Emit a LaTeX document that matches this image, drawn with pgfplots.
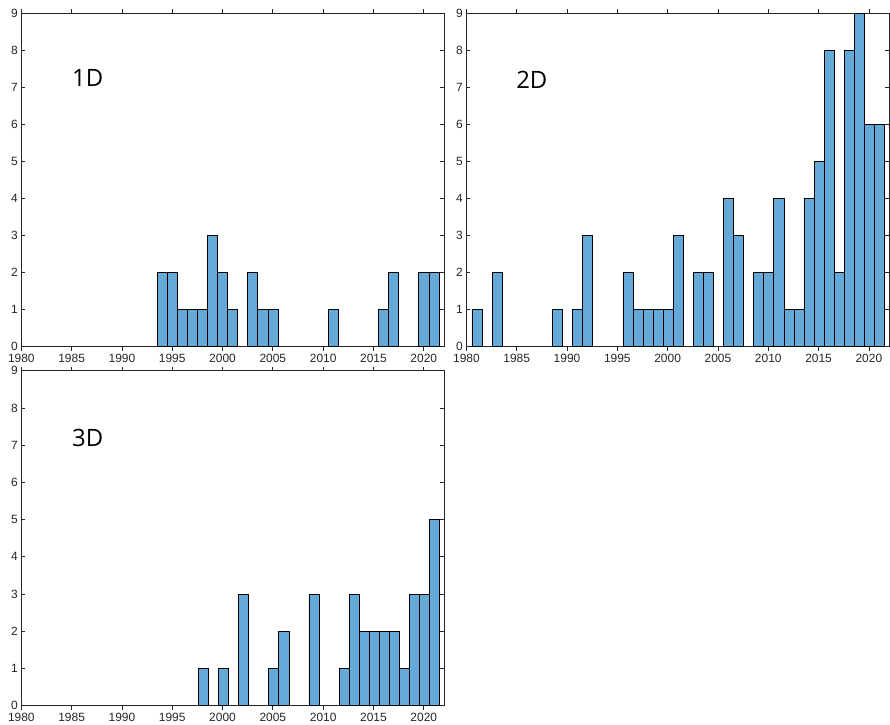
\documentclass[border=0pt]{standalone}
\usepackage{pgfplots}
\pgfplotsset{compat=1.18}
\usepackage{pgfplotstable}
\usepackage{fontspec}
\setmainfont{Liberation Sans}
\newfontfamily\labfont{Open Sans}
\definecolor{barblue}{RGB}{100,169,215}
\definecolor{axgray}{RGB}{38,38,38}

\pgfplotstableread{
year n
1994 2
1995 2
1996 1
1997 1
1998 1
1999 3
2000 2
2001 1
2003 2
2004 1
2005 1
2011 1
2016 1
2017 2
2020 2
2021 2
}\oneD

\pgfplotstableread{
year n
1981 1
1983 2
1989 1
1991 1
1992 3
1996 2
1997 1
1998 1
1999 1
2000 1
2001 3
2003 2
2004 2
2006 4
2007 3
2009 2
2010 2
2011 4
2012 1
2013 1
2014 4
2015 5
2016 8
2017 2
2018 8
2019 9
2020 6
2021 6
}\twoD

\pgfplotstableread{
year n
1998 1
2000 1
2002 3
2005 1
2006 2
2009 3
2012 1
2013 3
2014 2
2015 2
2016 2
2017 2
2018 1
2019 3
2020 3
2021 5
}\threeD

\pgfplotsset{panel/.style={
  scale only axis, width=422.6bp, height=333.4bp,
  xmin=1980, xmax=2022, ymin=0, ymax=9,
  xtick={1980,1985,...,2020}, ytick={0,...,9},
  tick align=inside, xtick pos=both, ytick pos=both,
  major tick length=4bp,
  axis line style={axgray, line width=0.7bp},
  every tick/.style={axgray, line width=0.7bp},
  tick label style={font=\fontsize{12}{14}\selectfont, text=axgray},
  /pgf/number format/assume math mode=true,
  /pgf/number format/1000 sep={},
  ybar, bar width=1,
  clip=false,
}}

\begin{document}
\begin{tikzpicture}
\useasboundingbox (0bp,0bp) rectangle (890bp,725bp);
\begin{axis}[panel, anchor=south west, at={(21.3bp,378.3bp)}]
\addplot[fill=barblue, draw=black, line width=0.6bp] table[x expr=\thisrow{year}, y=n] {\oneD};
\node[font=\labfont\fontsize{24}{28}\selectfont, text=black] at (axis cs:1986.6,7.25) {1D};
\end{axis}
\begin{axis}[panel, anchor=south west, at={(466.4bp,378.3bp)}]
\addplot[fill=barblue, draw=black, line width=0.6bp] table[x expr=\thisrow{year}+0.05, y=n] {\twoD};
\node[font=\labfont\fontsize{24}{28}\selectfont, text=black] at (axis cs:1986.5,7.2) {2D};
\end{axis}
\begin{axis}[panel, height=335bp, anchor=south west, at={(21.3bp,19.3bp)}]
\addplot[fill=barblue, draw=black, line width=0.6bp] table[x expr=\thisrow{year}+0.09, y=n] {\threeD};
\node[font=\labfont\fontsize{24}{28}\selectfont, text=black] at (axis cs:1986.6,7.2) {3D};
\end{axis}
\end{tikzpicture}
\end{document}
